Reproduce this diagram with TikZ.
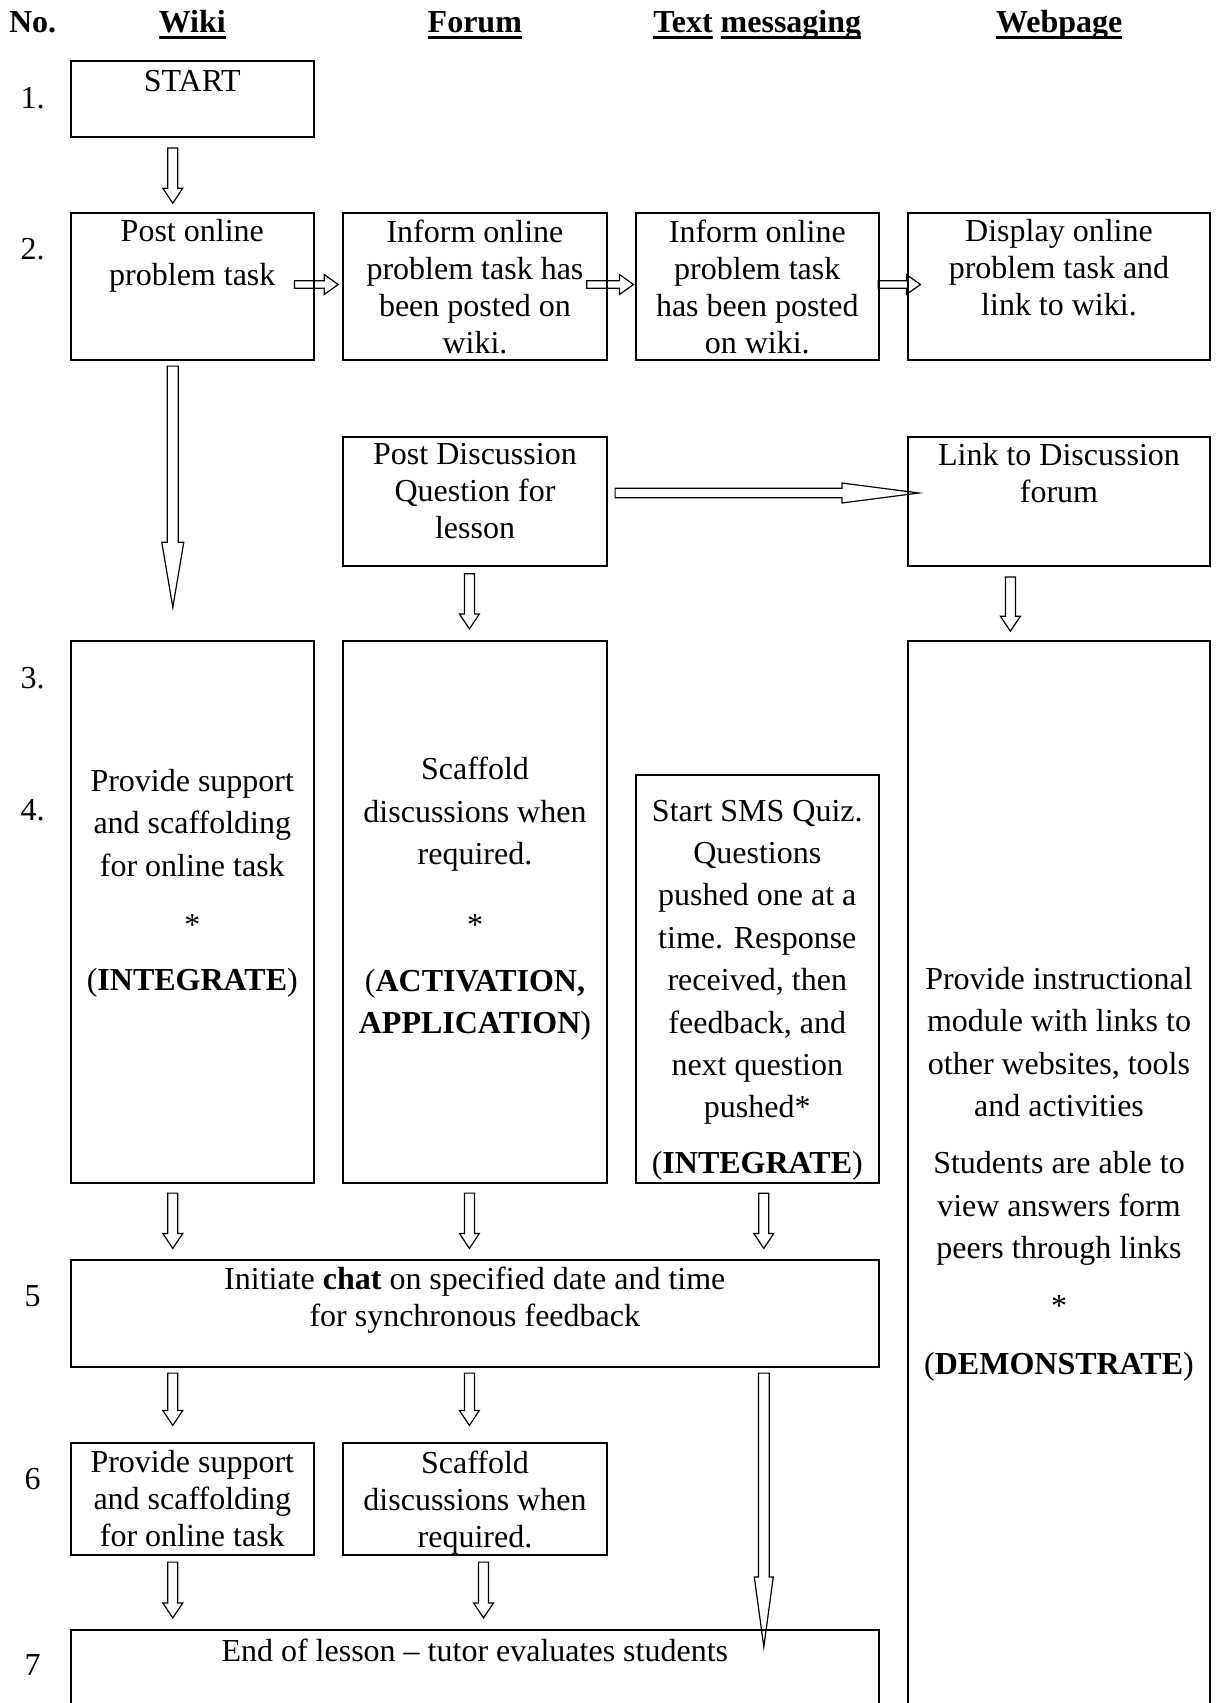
\documentclass[tikz,border=0pt]{standalone}
\usepackage{fontspec}
\setmainfont{Liberation Serif}
\usetikzlibrary{calc,positioning}

% heading underline, one rule per word
\newcommand{\hul}[1]{\setbox0\hbox{#1}\rlap{\rule[-7pt]{\wd0}{3pt}}\box0\relax}

\begin{document}
\begin{tikzpicture}[
  x=1pt, y=-1pt,
  cell/.style={
    rectangle,
    draw=black,
    line width=2.2pt,
    inner sep=0pt
  },
  txt/.style={align=center, inner sep=0pt, font=\fontsize{32}{37}\selectfont},
  txtw/.style={align=center, inner sep=0pt, font=\fontsize{32}{42.4}\selectfont},
  hdr/.style={anchor=base, inner sep=0pt, font=\fontsize{32}{37}\selectfont\bfseries},
  num/.style={anchor=base, inner sep=0pt, font=\fontsize{32}{37}\selectfont},
  blk/.style n args={3}{
    draw=black, line width=1.2pt,
    to path={
      (\tikztostart) coordinate (bs) (\tikztotarget) coordinate (bt)
      ($(bs)!#1!90:(bt)$)
      -- ($(bt)!#3!(bs)!#1!-90:(bs)$)
      -- ($(bt)!#3!(bs)!#2!-90:(bs)$)
      -- (bt)
      -- ($(bt)!#3!(bs)!#2!90:(bs)$)
      -- ($(bt)!#3!(bs)!#1!90:(bs)$)
      -- ($(bs)!#1!-90:(bt)$)
      -- cycle
    }
  },
  down/.style={blk={5pt}{10pt}{15pt}},
  side/.style={blk={3.8pt}{10pt}{14pt}},
  longdown/.style={blk={5.5pt}{11pt}{65pt}},
  lastdown/.style={blk={5.4pt}{9.5pt}{70pt}},
  wide/.style={blk={4.7pt}{10pt}{77pt}}
]

\useasboundingbox (0,0) rectangle (1219,1703);
\clip (0,0) rectangle (1219,1703);

% headings and step numbers
\node[hdr] (hno) at (32.6,32) {No.};
\node[hdr] (hwiki) at (192.3,32) {\hul{Wiki}};
\node[hdr] (hforum) at (474.8,32) {\hul{Forum}};
\node[hdr] (htext) at (757.3,32) {\hul{Text} \hul{messaging}};
\node[hdr] (hweb) at (1059.3,32) {\hul{Webpage}};

\node[num] (n1) at (32.6,108) {1.};
\node[num] (n2) at (32.6,259) {2.};
\node[num] (n3) at (32.6,688) {3.};
\node[num] (n4) at (32.6,820) {4.};
\node[num] (n5) at (32.6,1306) {5};
\node[num] (n6) at (32.6,1489) {6};
\node[num] (n7) at (32.6,1675.5) {7};

% boxes
\node[cell, minimum width=243.4pt, minimum height=76pt] (start) at (192.3,98.9) {};
\node[cell, minimum width=243.4pt, minimum height=146.6pt] (post) at (192.3,286.3) {};
\node[cell, minimum width=264pt, minimum height=146.6pt] (inform) at (475,286.3) {};
\node[cell, minimum width=243.4pt, minimum height=146.6pt] (notify) at (757.3,286.3) {};
\node[cell, minimum width=302pt, minimum height=146.6pt] (display) at (1059,286.3) {};
\node[cell, minimum width=264pt, minimum height=129pt] (question) at (475,501.5) {};
\node[cell, minimum width=302pt, minimum height=129pt] (link) at (1059,501.5) {};
\node[cell, minimum width=243.4pt, minimum height=542pt] (support) at (192.3,912) {};
\node[cell, minimum width=264pt, minimum height=542pt] (scaffold) at (475,912) {};
\node[cell, minimum width=243.4pt, minimum height=408.3pt] (quiz) at (757.3,979) {};
\node[cell, minimum width=302pt, minimum height=1079pt] (module) at (1059,1180.5) {};
\node[cell, minimum width=808.4pt, minimum height=107pt] (chat) at (474.8,1313.5) {};
\node[cell, minimum width=243.4pt, minimum height=112pt] (support2) at (192.3,1499) {};
\node[cell, minimum width=264pt, minimum height=112pt] (scaffold2) at (475,1499) {};
\node[cell, minimum width=808.4pt, minimum height=90pt] (endl) at (474.8,1675) {};

% box texts
\node[txt, below=10pt of start.north] (startT) {START};
\node[txt, font=\fontsize{32}{43.5}\selectfont, below=7.4pt of post.north] (postT) {Post online\\problem task};
\node[txt, below=7.4pt of inform.north] (informT) {Inform online\\problem task has\\been posted on\\wiki.};
\node[txt, below=7.4pt of notify.north] (notifyT) {Inform online\\problem task\\has been posted\\on wiki.};
\node[txt, below=7.4pt of display.north] (displayT) {Display online\\problem task and\\link to wiki.};
\node[txt, below=7.5pt of question.north] (questionT) {Post Discussion\\Question for\\lesson};
\node[txt, below=7.5pt of link.north] (linkT) {Link to Discussion\\forum};
\node[txtw, below=129pt of support.north] (supportT) {Provide support\\and scaffolding\\for online task\\[17pt]*\\[13pt](\textbf{INTEGRATE})};
\node[txtw, below=117pt of scaffold.north] (scaffoldT) {Scaffold\\discussions when\\required.\\[29pt]*\\[13pt](\textbf{ACTIVATION,}\\\textbf{APPLICATION})};
\node[txtw, below=26pt of quiz.north] (quizT) {Start SMS Quiz.\\Questions\\pushed one at a\\time. Response\\received, then\\feedback, and\\next question\\pushed*\\[13.5pt](\textbf{INTEGRATE})};
\node[txtw, below=327pt of module.north] (moduleT) {Provide instructional\\module with links to\\other websites, tools\\and activities\\[15pt]Students are able to\\view answers form\\peers through links\\[15pt]*\\[16pt](\textbf{DEMONSTRATE})};
\node[txt, below=7.8pt of chat.north] (chatT) {Initiate \textbf{chat} on specified date and time\\for synchronous feedback};
\node[txt, below=8.4pt of support2.north] (support2T) {Provide support\\and scaffolding\\for online task};
\node[txt, below=8.4pt of scaffold2.north] (scaffold2T) {Scaffold\\discussions when\\required.};
\node[txt, below=9.4pt of endl.north] (endlT) {End of lesson -- tutor evaluates students};

% block arrows
\draw[down] ([xshift=-19.5pt,yshift=-10pt]start.south) to ([xshift=-19.5pt,yshift=8.7pt]post.north);
\draw[side] ([xshift=-20.6pt,yshift=1.8pt]post.east) to ([xshift=-3.7pt,yshift=1.8pt]inform.west);
\draw[side] ([xshift=-21.4pt,yshift=1.8pt]inform.east) to ([xshift=-1pt,yshift=1.8pt]notify.west);
\draw[side] ([xshift=-2pt,yshift=1.8pt]notify.east) to ([xshift=13.5pt,yshift=1.8pt]display.west);
\draw[longdown] ([xshift=-19.5pt,yshift=-5.4pt]post.south) to ([xshift=-19.5pt,yshift=32.6pt]support.north);
\draw[wide] ([xshift=7pt,yshift=8.5pt]question.east) to ([xshift=12pt,yshift=8.5pt]link.west);
\draw[down] ([xshift=-5.6pt,yshift=-6.6pt]question.south) to ([xshift=-5.6pt,yshift=11pt]scaffold.north);
\draw[down] ([xshift=-48.6pt,yshift=-9.8pt]link.south) to ([xshift=-48.6pt,yshift=8.7pt]module.north);

\draw[down] ([xshift=-19.5pt,yshift=-9pt]support.south) to ($(support.south |- chat.north)+(-19.5pt,10.5pt)$);
\draw[down] ([xshift=-5.6pt,yshift=-9pt]scaffold.south) to ($(scaffold.south |- chat.north)+(-5.6pt,10.5pt)$);
\draw[down] ([xshift=6.5pt,yshift=-9pt]quiz.south) to ($(quiz.south |- chat.north)+(6.5pt,10.5pt)$);

\draw[down] ($(support2.north |- chat.south)+(-19.5pt,-5pt)$) to ([xshift=-19.5pt,yshift=16.5pt]support2.north);
\draw[down] ($(scaffold2.north |- chat.south)+(-5.6pt,-5pt)$) to ([xshift=-5.6pt,yshift=16.5pt]scaffold2.north);
\draw[lastdown] ($(quiz.south |- chat.south)+(6.5pt,-5pt)$) to ($(quiz.south |- endl.north)+(6.5pt,-18pt)$);

\draw[down] ([xshift=-19.5pt,yshift=-6pt]support2.south) to ($(support2.south |- endl.north)+(-19.5pt,11pt)$);
\draw[down] ([xshift=8.5pt,yshift=-6pt]scaffold2.south) to ($(scaffold2.south |- endl.north)+(8.5pt,11pt)$);

\end{tikzpicture}
\end{document}
